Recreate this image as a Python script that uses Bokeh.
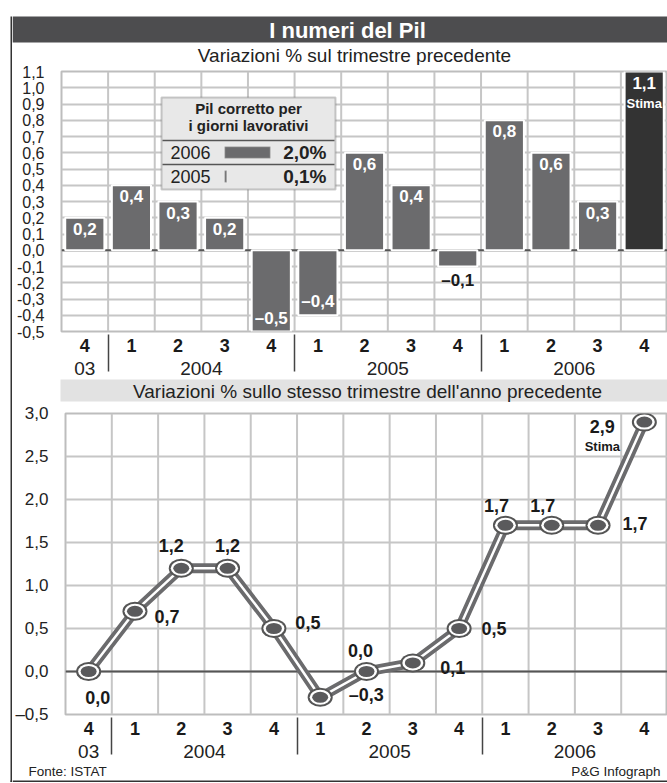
from bokeh.plotting import figure
from bokeh.models import (FactorRange, FixedTicker, Span, BoxAnnotation, Label,
                          ColumnDataSource, Range1d)
from bokeh.layouts import column, row
from bokeh.embed import file_html
from bokeh.resources import INLINE
from bokeh.core.properties import value

# ------------------------------------------------------------------ data
years = ["03", "2004", "2004", "2004", "2004", "2005", "2005", "2005", "2005",
         "2006", "2006", "2006", "2006"]
quarters = ["4", "1", "2", "3", "4", "1", "2", "3", "4", "1", "2", "3", "4"]
qoq_change = [0.2, 0.4, 0.3, 0.2, -0.5, -0.4, 0.6, 0.4, -0.1, 0.8, 0.6, 0.3, 1.1]
yoy_change = [0.0, 0.7, 1.2, 1.2, 0.5, -0.3, 0.0, 0.1, 0.5, 1.7, 1.7, 1.7, 2.9]
is_estimate = [False, False, False, False, False, False, False, False, False,
               False, False, False, True]

top_ticks = [-0.5, -0.4, -0.3, -0.2, -0.1, 0.0, 0.1, 0.2, 0.3, 0.4, 0.5, 0.6,
             0.7, 0.8, 0.9, 1.0, 1.1]
top_tick_labels = ["-0,5", "-0,4", "-0,3", "-0,2", "-0,1", "0,0", "0,1", "0,2",
                   "0,3", "0,4", "0,5", "0,6", "0,7", "0,8", "0,9", "1,0", "1,1"]
bottom_ticks = [-0.5, 0.0, 0.5, 1.0, 1.5, 2.0, 2.5, 3.0]
bottom_tick_labels = ["\u20130,5", "0,0", "0,5", "1,0", "1,5", "2,0", "2,5", "3,0"]

legend_years = ["2006", "2005"]
legend_values = [2.0, 0.1]

title_text = "I numeri del Pil"
subtitle_top = "Variazioni % sul trimestre precedente"
subtitle_bottom = "Variazioni % sullo stesso trimestre dell'anno precedente"
source_text = "Fonte: ISTAT"
credit_text = "P&G Infograph"

# ------------------------------------------------------------------ style / layout
FONT = "Liberation Sans"
STRIP = 12                 # left strip holding the outer border line
W = 667 - STRIP            # width of the main column
H_HEAD, H_TOP, H_BAND, H_BOT, H_FOOT = 65, 313, 24, 362, 19
FL1, FT1, FB1 = 61 - STRIP, 6, 266        # top chart frame (local px)
FL2, FT2, FB2 = 64 - STRIP, 11, 312       # bottom chart frame (local px)
BAR = "#6b6b6d"
DARK = "#333333"
GRID = "#c6c6c6"
INK = "#1a1a1a"

# label offsets (screen px) for the lower chart
lab_dx = [9, 32, -10, 0, 34, 46, -6, 40, 35, -9, -9, 37, -42]
lab_dy = [26, 5, -23, -23, -6, -2, -21, 5, 0, -20, -20, -2, 4]

factors = list(zip(years, quarters))


def fmt(v):
    s = f"{abs(v):.1f}".replace(".", ",")
    return ("\u2013" + s) if v < 0 else s


def deco_fig(width, height):
    """Blank figure whose frame is the whole canvas, in pixel-like coordinates."""
    p = figure(width=width, height=height, x_range=Range1d(0, width),
               y_range=Range1d(height, 0), output_backend="svg",
               toolbar_location=None, x_axis_location=None, y_axis_location=None,
               min_border=0, frame_align=False)
    p.grid.visible = False
    p.outline_line_color = None
    p.background_fill_color = "white"
    p.border_fill_color = "white"
    return p


def dtext(p, x, y, text, size, bold=False, color="#222222", align="center"):
    p.text(x=[x], y=[y], text=[text], text_font=value(FONT), text_font_size=size,
           text_font_style="bold" if bold else "normal", text_color=color,
           text_align=align, text_baseline="middle")


def chart_fig(height, fl, ft, fb, yr, ticks, tick_labels, lab_size):
    p = figure(width=W, height=height,
               x_range=FactorRange(*factors, factor_padding=0, group_padding=0,
                                   range_padding=0),
               y_range=Range1d(*yr), output_backend="svg", toolbar_location=None,
               min_border_left=fl, min_border_right=0, min_border_top=ft,
               min_border_bottom=height - fb, frame_align=False)
    p.background_fill_color = "white"
    p.border_fill_color = "white"
    p.outline_line_color = "#bdbdbd"
    p.outline_line_width = 2
    p.xgrid.grid_line_color = None
    p.ygrid.grid_line_color = GRID
    p.ygrid.grid_line_width = 2
    ya = p.yaxis[0]
    ya.ticker = FixedTicker(ticks=ticks)
    ya.major_label_overrides = dict(zip(ticks, tick_labels))
    ya.axis_line_color = None
    ya.major_tick_line_color = None
    ya.minor_tick_line_color = None
    ya.major_label_standoff = 11
    ya.major_label_text_font = FONT
    ya.major_label_text_font_size = lab_size
    ya.major_label_text_color = "#222222"
    xa = p.xaxis[0]
    xa.axis_line_color = None
    xa.major_tick_line_color = None
    xa.major_tick_out = 0
    xa.major_label_standoff = 7
    xa.major_label_text_font = FONT
    xa.major_label_text_font_style = "bold"
    xa.major_label_text_font_size = "18px"
    xa.major_label_text_color = INK
    xa.group_text_font = FONT
    xa.group_text_font_style = "normal"
    xa.group_text_font_size = "19px"
    xa.group_text_color = "#222222"
    xa.separator_line_color = "#444444"
    xa.separator_line_width = 1.5
    for i in range(1, len(factors)):
        p.add_layout(Span(location=i, dimension="height", line_color=GRID,
                          line_width=2, level="underlay"))
    p.add_layout(Span(location=0, dimension="width", line_color="#555555",
                      line_width=2, level="underlay"))
    return p


def sbox(p, fl, fb, x0, y0, x1, y1, **kw):
    p.add_layout(BoxAnnotation(left=x0 - fl, right=x1 - fl, top=fb - y0, bottom=fb - y1,
                               left_units="screen", right_units="screen",
                               top_units="screen", bottom_units="screen", **kw))


def slabel(p, fl, fb, x, y, text, size, bold=False, color="#222222", align="center"):
    p.add_layout(Label(x=x - fl, y=fb - y, x_units="screen", y_units="screen",
                       text=text, text_font=FONT, text_font_size=size,
                       text_font_style="bold" if bold else "normal",
                       text_color=color, text_align=align, text_baseline="middle"))


# ================================================================== left border strip
strip = deco_fig(STRIP, 783)
strip.quad(left=[10], right=[11.5], top=[16], bottom=[781.5], fill_color=DARK, line_color=None)
strip.quad(left=[10], right=[STRIP], top=[780], bottom=[781.5], fill_color=DARK, line_color=None)

# ================================================================== header
head = deco_fig(W, H_HEAD)
head.quad(left=[0], right=[W], top=[16], bottom=[42], fill_color="#4d4d4f", line_color=None)
dtext(head, 347 - STRIP, 29.5, title_text, "22px", bold=True, color="white")
dtext(head, 354 - STRIP, 55, subtitle_top, "19px")

# ================================================================== top chart
top = chart_fig(H_TOP, FL1, FT1, FB1, (-0.5, 1.1), top_ticks, top_tick_labels, "16px")

colors = [DARK if e else BAR for e in is_estimate]
src1 = ColumnDataSource(dict(x=factors, y=qoq_change, color=colors))
top.vbar(x="x", top="y", bottom=0, width=0.84, fill_color="color",
         line_color="white", line_width=2, source=src1)

txt = dict(text_align="center", text_font=value(FONT), text_font_style="bold",
           text_font_size="17px")
pos = [i for i, v in enumerate(qoq_change) if v > 0]
neg_in = [i for i, v in enumerate(qoq_change) if v <= -0.3]
neg_out = [i for i, v in enumerate(qoq_change) if -0.3 < v < 0]


def sub(idx):
    return ColumnDataSource(dict(x=[factors[i] for i in idx],
                                 y=[qoq_change[i] for i in idx],
                                 label=[fmt(qoq_change[i]) for i in idx]))


top.text(x="x", y="y", text="label", source=sub(pos), text_baseline="top",
         y_offset=5, text_color="white", **txt)
top.text(x="x", y="y", text="label", source=sub(neg_in), text_baseline="bottom",
         y_offset=-4, text_color="white", **txt)
top.text(x="x", y="y", text="label", source=sub(neg_out), text_baseline="top",
         y_offset=4, text_color=INK, **txt)
est = [i for i, e in enumerate(is_estimate) if e]
top.text(x=[factors[i] for i in est], y=[qoq_change[i] for i in est], text=["Stima"],
         text_baseline="top", y_offset=24, text_color="white", text_align="center",
         text_font=value(FONT), text_font_style="bold", text_font_size="13px")

# legend box (mini bar chart), canvas coordinates converted to frame screen units
LX, LY = STRIP, H_HEAD
sbox(top, FL1, FB1, 161 - LX, 97 - LY, 335 - LX, 189 - LY, fill_color="#e8e8e8",
     fill_alpha=1, line_color="#555555", line_width=2)
slabel(top, FL1, FB1, 248 - LX, 108 - LY, "Pil corretto per", "15px", bold=True)
slabel(top, FL1, FB1, 248 - LX, 125 - LY, "i giorni lavorativi", "15px", bold=True)
for yy in (140, 164):
    sbox(top, FL1, FB1, 162 - LX, yy - 0.75 - LY, 334 - LX, yy + 0.75 - LY,
         fill_color="#555555", fill_alpha=1, line_color=None)
vmax = max(legend_values)
for k, (yr, v) in enumerate(zip(legend_years, legend_values)):
    cy = 152 + 24 * k - LY
    slabel(top, FL1, FB1, 170 - LX, cy, yr, "18px", align="left")
    sbox(top, FL1, FB1, 224 - LX, cy - 6, 224 - LX + 46 * v / vmax, cy + 6,
         fill_color=BAR, fill_alpha=1, line_color="white", line_width=1.5)
    slabel(top, FL1, FB1, 326 - LX, cy, fmt(v) + "%", "19px", bold=True, align="right")

# ================================================================== band with second subtitle
band = deco_fig(W, H_BAND)
band.quad(left=[60 - STRIP], right=[W], top=[1], bottom=[23], fill_color="#e2e2e2",
          line_color=None)
dtext(band, 367 - STRIP, 12.5, subtitle_bottom, "19px")

# ================================================================== bottom chart
bot = chart_fig(H_BOT, FL2, FT2, FB2, (-0.5, 3.0), bottom_ticks, bottom_tick_labels, "17px")

src2 = ColumnDataSource(dict(x=factors, y=yoy_change, label=[fmt(v) for v in yoy_change],
                             dx=lab_dx, dy=lab_dy))
bot.line(x="x", y="y", source=src2, line_color=BAR, line_width=10, line_join="round")
bot.line(x="x", y="y", source=src2, line_color="white", line_width=2.5, line_join="round")
bot.ellipse(x="x", y="y", source=src2, width=25, height=19, width_units="screen",
            height_units="screen", fill_color="#555555", line_color=None)
bot.ellipse(x="x", y="y", source=src2, width=21, height=15, width_units="screen",
            height_units="screen", fill_color="white", line_color=None)
bot.ellipse(x="x", y="y", source=src2, width=16, height=11, width_units="screen",
            height_units="screen", fill_color="#5a5a5c", line_color=None)
bot.text(x="x", y="y", text="label", source=src2, x_offset="dx", y_offset="dy",
         text_align="center", text_baseline="middle", text_color=INK,
         text_font=value(FONT), text_font_style="bold", text_font_size="18px")
bot.text(x=[factors[i] for i in est], y=[yoy_change[i] for i in est], text=["Stima"],
         x_offset=-42, y_offset=24, text_align="center", text_baseline="middle",
         text_color=INK, text_font=value(FONT), text_font_style="bold",
         text_font_size="13px")

# ================================================================== footer
foot = deco_fig(W, H_FOOT)
foot.quad(left=[0], right=[W], top=[16], bottom=[17.5], fill_color=DARK, line_color=None)
dtext(foot, 28 - STRIP, 7, source_text, "13.5px", align="left")
dtext(foot, 660 - STRIP, 7, credit_text, "13.5px", align="right")

main = column(head, top, band, bot, foot, spacing=0)
layout = row(strip, main, spacing=0)
open("out.html", "w").write(file_html(layout, INLINE, title="I numeri del Pil"))
